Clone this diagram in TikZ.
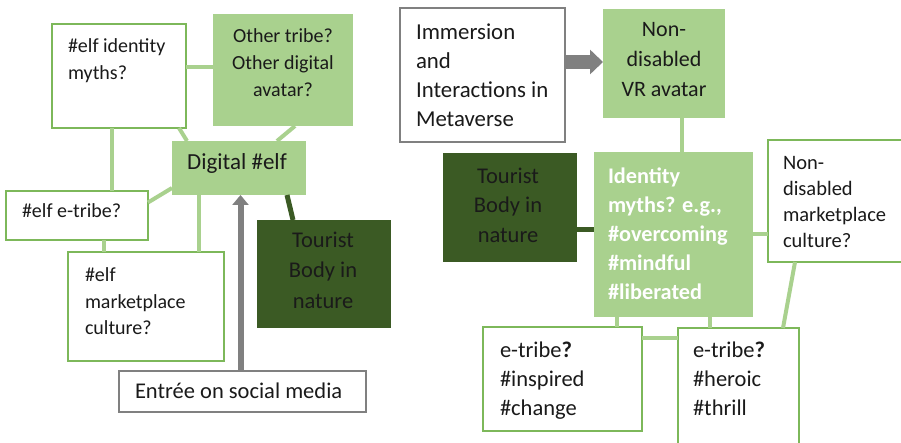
\documentclass[tikz,border=0pt]{standalone}
\usepackage{fontspec}
\setmainfont{Carlito}
\usetikzlibrary{arrows.meta}
\definecolor{lightg}{HTML}{A9D18E}
\definecolor{bordg}{HTML}{7DB85A}
\definecolor{darkg}{HTML}{3B5A24}
\definecolor{grayb}{HTML}{808080}
\definecolor{txt}{HTML}{1A1A1A}
\newcommand{\fs}[2]{\fontsize{#1}{#2}\selectfont}
\tikzset{
  boxbase/.style={rectangle, inner sep=0pt, outer sep=0pt, anchor=north west},
  whitebox/.style={boxbase, draw=bordg, line width=1.5pt, fill=white},
  graybox/.style={boxbase, draw=grayb, line width=1.5pt, fill=white},
  lightbox/.style={boxbase, fill=lightg},
  darkbox/.style={boxbase, fill=darkg},
  tx/.style={inner sep=0pt, outer sep=0pt, text=txt, font=\fs{22.5}{28}},
  conn/.style={draw=lightg, line width=4pt},
  darkconn/.style={draw=darkg, line width=5pt},
  grayarrow/.style={draw=grayb, line width=6pt, -{Triangle[length=10pt,width=16pt]}},
  fatarrow/.style={draw=grayb, line width=14pt, -{Triangle[length=13pt,width=24pt]}}
}
\begin{document}
\begin{tikzpicture}[x=1pt,y=-1pt]
\useasboundingbox (0,0) rectangle (901,443);
\begin{scope}
\clip (0,0) rectangle (901,443);
% ---------- left diagram boxes ----------
\node[whitebox, minimum width=134pt, minimum height=104pt] (idm) at (52,24) {};
\node[lightbox, minimum width=140pt, minimum height=112pt] (oth) at (213,14) {};
\node[lightbox, minimum width=134pt, minimum height=54pt] (dig) at (172,141) {};
\node[whitebox, minimum width=142pt, minimum height=49pt] (etr) at (6,191) {};
\node[whitebox, minimum width=156pt, minimum height=109pt] (mkt) at (68,252) {};
\node[darkbox, minimum width=134pt, minimum height=108pt] (tl) at (257,220) {};
\node[graybox, minimum width=247pt, minimum height=41pt] (ent) at (119,371) {};
% ---------- right diagram boxes ----------
\node[graybox, minimum width=165pt, minimum height=134pt] (imm) at (400,8) {};
\node[lightbox, minimum width=122pt, minimum height=109pt] (nda) at (603,9) {};
\node[darkbox, minimum width=134pt, minimum height=109pt] (tr) at (443,153) {};
\node[lightbox, minimum width=159pt, minimum height=165pt] (idn) at (594,152) {};
\node[whitebox, minimum width=140pt, minimum height=122pt] (ndm) at (768,140) {};
\node[whitebox, minimum width=159pt, minimum height=104pt] (et1) at (483,327) {};
\node[whitebox, minimum width=121pt, minimum height=125pt] (et2) at (678,328) {};
% ---------- left connectors ----------
\draw[conn] ([yshift=9pt]idm.east) -- ([yshift=9pt]idm.east -| oth.west);
\draw[conn] ([xshift=-7pt]idm.south) -- ([xshift=-7pt]idm.south |- etr.north);
\draw[conn] ([xshift=-7pt]idm.south east) -- ([xshift=15pt]dig.north west);
\draw[conn] ([xshift=12pt]oth.south) -- ([xshift=-29pt]dig.north east);
\draw[conn] ([yshift=13pt]etr.east) -- ([yshift=7pt]dig.south west);
\draw[conn] ([xshift=27pt]etr.south) -- ([xshift=27pt]etr.south |- mkt.north);
\draw[conn] ([xshift=27pt]dig.south west) -- ([xshift=27pt]dig.south west |- mkt.north);
\draw[darkconn] ([xshift=-19pt]dig.south east) -- ([xshift=36pt]tl.north west);
\draw[grayarrow] ([xshift=-2pt]ent.north) -- ([xshift=-2pt]ent.north |- dig.south);
% ---------- right connectors ----------
\draw[fatarrow] ([yshift=13pt]imm.east) -- ([yshift=13pt]imm.east -| nda.west);
\draw[conn] ([xshift=18pt]nda.south) -- ([xshift=18pt]nda.south |- idn.north);
\draw[darkconn] ([yshift=-22pt]tr.east) -- ([yshift=-22pt]tr.east -| idn.west);
\draw[conn] (idn.east) -- (idn.east -| ndm.west);
\draw[conn] ([xshift=23pt]idn.south west) -- ([xshift=23pt]idn.south west |- et1.north);
\draw[conn] ([xshift=116pt]idn.south west) -- ([xshift=116pt]idn.south west |- et2.north);
\draw[conn] ([yshift=-11pt]et1.north east) -- ([yshift=-11pt]et1.north east -| et2.west);
\draw[conn] ([xshift=27pt]ndm.south west) -- ([xshift=-16pt]et2.north east);
% ---------- left texts ----------
\node[tx, anchor=north west, align=left, font=\fs{20}{27}] (tidm) at (68,34.1) {\strut\#elf identity\\myths?};
\node[tx, anchor=north, align=center, font=\fs{20}{27}] (toth) at (283,24.1) {\strut Other tribe?\\Other digital\\avatar?};
\node[tx, anchor=base, font=\fs{23}{28}] (tdig) at (237,170) {Digital \#elf};
\node[tx, anchor=base west, font=\fs{20}{27}] (tetr) at (22,218) {\#elf e-tribe?};
\node[tx, anchor=north west, align=left, font=\fs{20}{26}] (tmkt) at (85,263.8) {\strut\#elf\\marketplace\\culture?};
\node[tx, anchor=north, align=center, font=\fs{22.5}{30}] (ttl) at (323,227) {\strut Tourist\\Body in\\nature};
\node[tx, anchor=base west, font=\fs{22.5}{28}] (tent) at (135,398) {Entrée on social media};
% ---------- right texts ----------
\node[tx, anchor=north west, align=left, font=\fs{22.8}{29.3}] (timm) at (416,18.5) {\strut Immersion\\and\\Interactions in\\Metaverse};
\node[tx, anchor=north, align=center, font=\fs{22}{30}] (tnda) at (664,16) {\strut Non-\\disabled\\VR avatar};
\node[tx, anchor=north, align=center, font=\fs{22.5}{29.5}] (ttr) at (508,162.4) {\strut Tourist\\Body in\\nature};
\node[tx, anchor=north west, align=left, text=white, font=\bfseries\fs{22.3}{29.2}] (tidn) at (608,162.6) {\strut Identity\\myths? e.g.,\\\#overcoming\\\#mindful\\\#liberated};
\node[tx, anchor=north west, align=left, font=\fs{20.5}{26}] (tndm) at (783,151.8) {\strut Non-\\disabled\\marketplace\\culture?};
\node[tx, anchor=north west, align=left, font=\fs{22.5}{29}] (tet1) at (500,336.7) {\strut e-tribe\textbf{?}\\\#inspired\\\#change};
\node[tx, anchor=north west, align=left, font=\fs{22.5}{29}] (tet2) at (693,336.7) {\strut e-tribe\textbf{?}\\\#heroic\\\#thrill};
\end{scope}
\end{tikzpicture}
\end{document}
